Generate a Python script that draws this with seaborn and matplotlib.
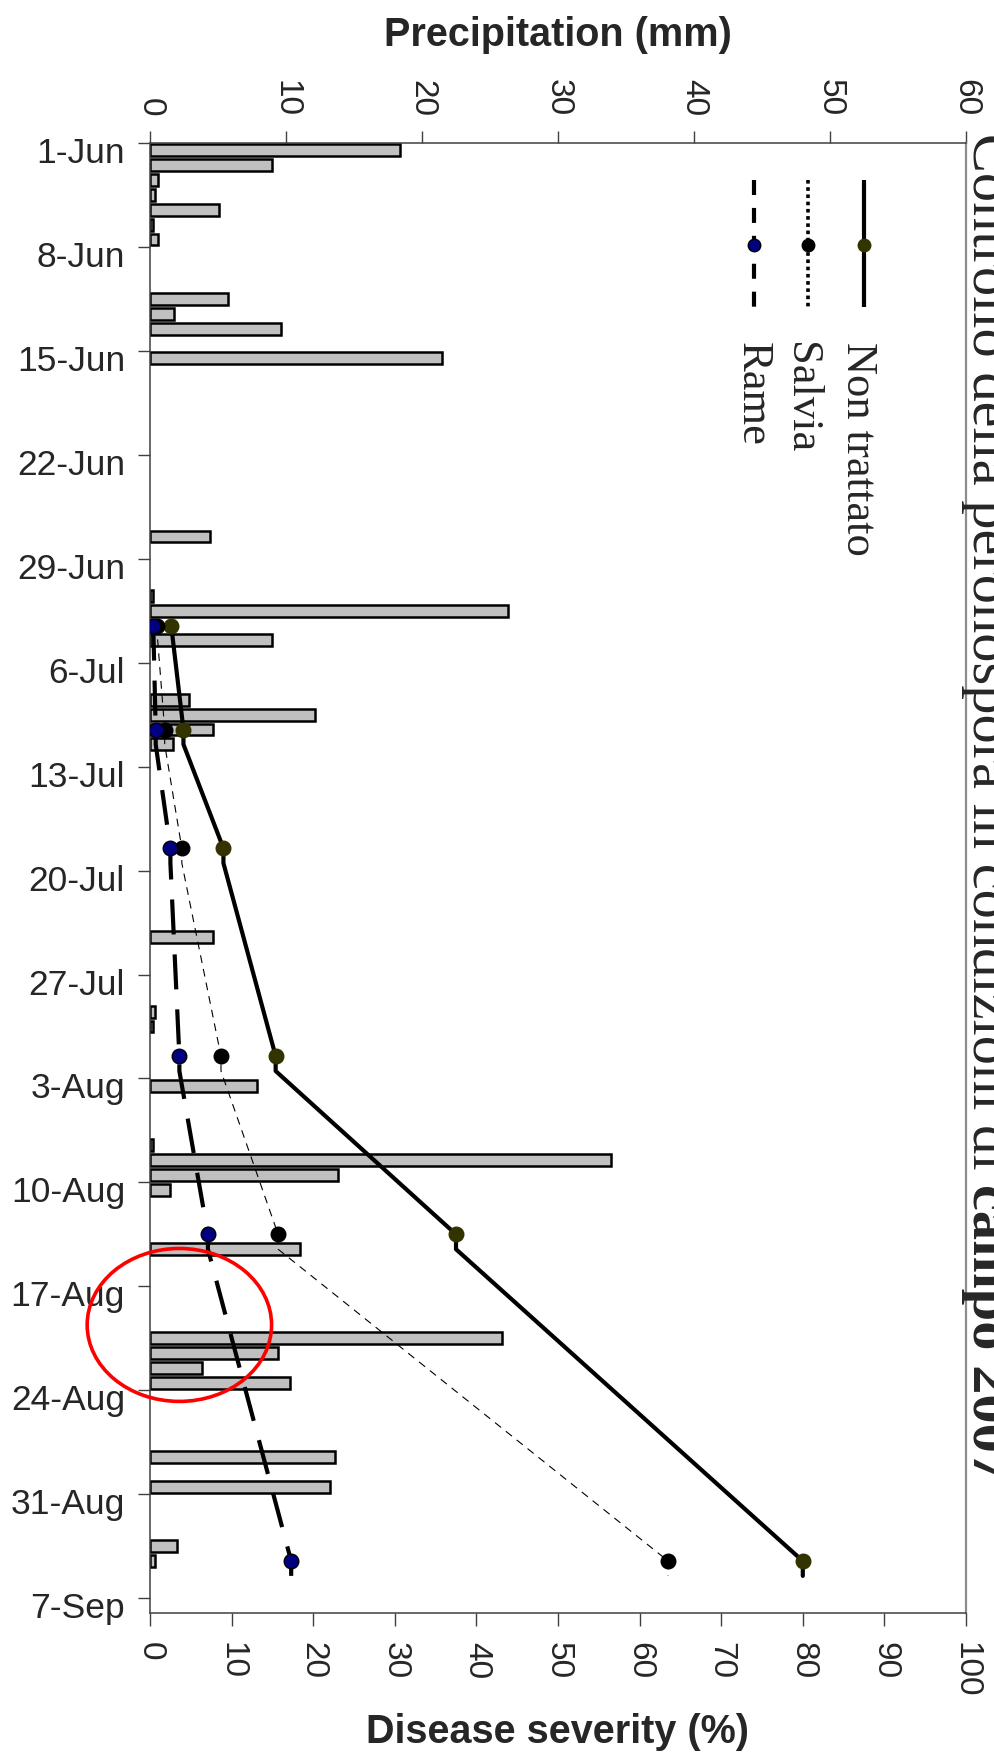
import numpy as np
import pandas as pd
import matplotlib
matplotlib.use("Agg")
import matplotlib.pyplot as plt
import matplotlib.transforms as mtrans
from matplotlib.patches import Ellipse
import seaborn as sns

# -----------------------------
# DATA
# -----------------------------
START = pd.Timestamp("2007-06-01")

rain_dates = ["2007-06-01", "2007-06-02", "2007-06-03", "2007-06-04", "2007-06-05",
              "2007-06-06", "2007-06-07", "2007-06-11", "2007-06-12", "2007-06-13",
              "2007-06-15", "2007-06-27", "2007-07-01", "2007-07-02", "2007-07-04",
              "2007-07-08", "2007-07-09", "2007-07-10", "2007-07-11", "2007-07-24",
              "2007-07-29", "2007-07-30", "2007-08-03", "2007-08-07", "2007-08-08",
              "2007-08-09", "2007-08-10", "2007-08-14", "2007-08-20", "2007-08-21",
              "2007-08-22", "2007-08-23", "2007-08-28", "2007-08-30", "2007-09-03",
              "2007-09-04"]
rain_mm = [18.4, 9.0, 0.6, 0.4, 5.1,
           0.2, 0.6, 5.7, 1.8, 9.6,
           21.5, 4.4, 0.2, 26.3, 9.0,
           2.9, 12.1, 4.6, 1.7, 4.6,
           0.4, 0.2, 7.9, 0.2, 33.9,
           13.8, 1.5, 11.0, 25.9, 9.4,
           3.8, 10.3, 13.6, 13.2, 2.0,
           0.4]

survey_dates = ["2007-07-03", "2007-07-10", "2007-07-18", "2007-08-01", "2007-08-13", "2007-09-04"]
non_trattato = [2.6, 4.1, 9.0, 15.4, 37.5, 80.0]
salvia = [0.8, 1.8, 3.9, 8.7, 15.7, 63.5]
rame = [0.4, 0.7, 2.5, 3.6, 7.1, 17.3]

tick_dates = ["2007-06-01", "2007-06-08", "2007-06-15", "2007-06-22", "2007-06-29",
              "2007-07-06", "2007-07-13", "2007-07-20", "2007-07-27", "2007-08-03",
              "2007-08-10", "2007-08-17", "2007-08-24", "2007-08-31", "2007-09-07"]
end_date = "2007-09-08"

precip_ticks = [0, 10, 20, 30, 40, 50, 60]
severity_ticks = [0, 10, 20, 30, 40, 50, 60, 70, 80, 90, 100]


def day_index(dates):
    return (pd.to_datetime(pd.Series(dates)) - START).dt.days.to_numpy()


def slot_center(dates):
    # each day is a slot [d, d+1], values sit in its middle
    return day_index(dates) + 0.5


def held_path(dates, values):
    # the line holds each reading (after the first) over the following day
    pos = slot_center(dates)
    xs, ys = [values[0]], [pos[0]]
    for p, v in zip(pos[1:], values[1:]):
        xs += [v, v]
        ys += [p, p + 1]
    return xs, ys


# -----------------------------
# FIGURE
# -----------------------------
sns.set_theme(style="ticks")
plt.rcParams["font.family"] = ["Liberation Sans", "DejaVu Sans"]
AX_COL = "#404040"

W, H = 994, 1764
fig = plt.figure(figsize=(W / 100, H / 100), dpi=100)
ax = fig.add_axes([150 / W, 1 - 1613 / H, 816 / W, 1470 / H])
axd = ax.twiny()

# precipitation bars (top axis)
sns.barplot(x=rain_mm, y=slot_center(rain_dates), orient="h", native_scale=True,
            color="#c0c0c0", saturation=1, edgecolor="black", linewidth=1.8,
            errorbar=None, ax=ax)

# disease severity lines (bottom axis)
series = [
    ("Non trattato", non_trattato, "#333300", "#333300", dict(lw=3, ls="-")),
    ("Salvia", salvia, "black", "black", dict(lw=0.8, ls=(0, (7, 5.5)))),
    ("Rame", rame, "#000080", "black", dict(lw=3, ls=(0, (8.4, 4.8)))),
]
for name, vals, fc, ec, style in series:
    xs, ys = held_path(survey_dates, vals)
    sns.lineplot(x=xs, y=ys, sort=False, estimator=None, color="black",
                 legend=False, ax=axd, **style)
for name, vals, fc, ec, style in series:
    sns.scatterplot(x=vals, y=slot_center(survey_dates), color=fc, edgecolor=ec,
                    linewidth=1, s=110, legend=False, ax=axd, zorder=4)

# axes ranges
n_days = day_index([end_date])[0]
ax.set_xlim(precip_ticks[0], precip_ticks[-1])
axd.set_xlim(severity_ticks[0], severity_ticks[-1])
ax.set_ylim(n_days, 0)

ax.xaxis.tick_top()
ax.xaxis.set_label_position("top")
axd.xaxis.tick_bottom()
axd.xaxis.set_label_position("bottom")

ax.set_xticks(precip_ticks)
axd.set_xticks(severity_ticks)
tick_days = day_index(tick_dates)
ax.set_yticks(tick_days)
ax.set_yticklabels([f"{d.day}-{d.strftime('%b')}" for d in pd.to_datetime(tick_dates)])

ax.tick_params(axis="x", which="both", direction="out", length=9, width=1, color=AX_COL,
               labelsize=24, labelrotation=-90, pad=10,
               top=True, bottom=False, labeltop=True, labelbottom=False)
axd.tick_params(axis="x", which="both", direction="out", length=9, width=1, color=AX_COL,
                labelsize=24, labelrotation=-90, pad=12,
                top=False, bottom=True, labeltop=False, labelbottom=True)
ax.tick_params(axis="y", direction="out", length=9, width=1, color=AX_COL,
               labelsize=25.5, pad=9, left=True, right=False)

# date labels sit a little below their ticks
shift = mtrans.ScaledTranslation(0, -0.07, fig.dpi_scale_trans)
for lbl in ax.get_yticklabels():
    lbl.set_transform(lbl.get_transform() + shift)

for side in ["left", "top", "bottom"]:
    ax.spines[side].set_color(AX_COL)
    ax.spines[side].set_linewidth(1.1)
ax.spines["right"].set_color("#8c8c8c")
ax.spines["right"].set_linewidth(1.6)
for sp in axd.spines.values():
    sp.set_visible(False)

ax.set_ylabel("")
ax.set_xlabel("Precipitation (mm)", fontsize=28.5, fontweight="bold")
ax.xaxis.set_label_coords(0.5, 1.066)
axd.set_ylabel("")
axd.set_xlabel("Disease severity (%)", fontsize=28.5, fontweight="bold")
axd.xaxis.set_label_coords(0.5, -0.068)

# -----------------------------
# LEGEND (rotated, drawn by hand)
# -----------------------------
leg_x = [0.875, 0.8064, 0.7402]
leg_txt_x = [0.8542, 0.7843, 0.7255]
leg_styles = [dict(lw=3, ls="-"),
              dict(lw=2.6, ls=(0, (1, 1))),
              dict(lw=3, ls=(0, (3.6, 3.1)))]
for (name, vals, fc, ec, _), lx, tx, st in zip(series, leg_x, leg_txt_x, leg_styles):
    axd.plot([lx, lx], [0.9748, 0.8884], color="black", transform=axd.transAxes,
             solid_capstyle="butt", dash_capstyle="butt", clip_on=False, **st)
    axd.plot([lx], [0.9306], marker="o", ms=9, mfc=fc, mec=ec, mew=1,
             transform=axd.transAxes, clip_on=False)
    axd.text(tx, 0.8646, name, transform=axd.transAxes, rotation=-90,
             rotation_mode="anchor", ha="left", va="baseline",
             family="Liberation Serif", fontsize=32)

# circled region
axd.add_patch(Ellipse((3.6, 79.6), 22.6, 10.3, fill=False, ec="red", lw=2.6,
                      clip_on=False, zorder=6))

# -----------------------------
# TITLE (rotated, runs off the right edge)
# -----------------------------
renderer = fig.canvas.get_renderer()
t1 = fig.text(973 / W, 1 - 133 / H, "Controllo della peronospora in condizioni di",
              rotation=-90, rotation_mode="anchor", ha="left", va="baseline",
              family="Liberation Serif", fontsize=42)
bb = t1.get_window_extent(renderer)
gap = 0.25 * 42 * fig.dpi / 72
fig.text(973 / W, (bb.y0 - gap) / H, "campo 2007",
         rotation=-90, rotation_mode="anchor", ha="left", va="baseline",
         family="Liberation Serif", fontsize=42, fontweight="bold")

fig.savefig("out.png", dpi=100)
